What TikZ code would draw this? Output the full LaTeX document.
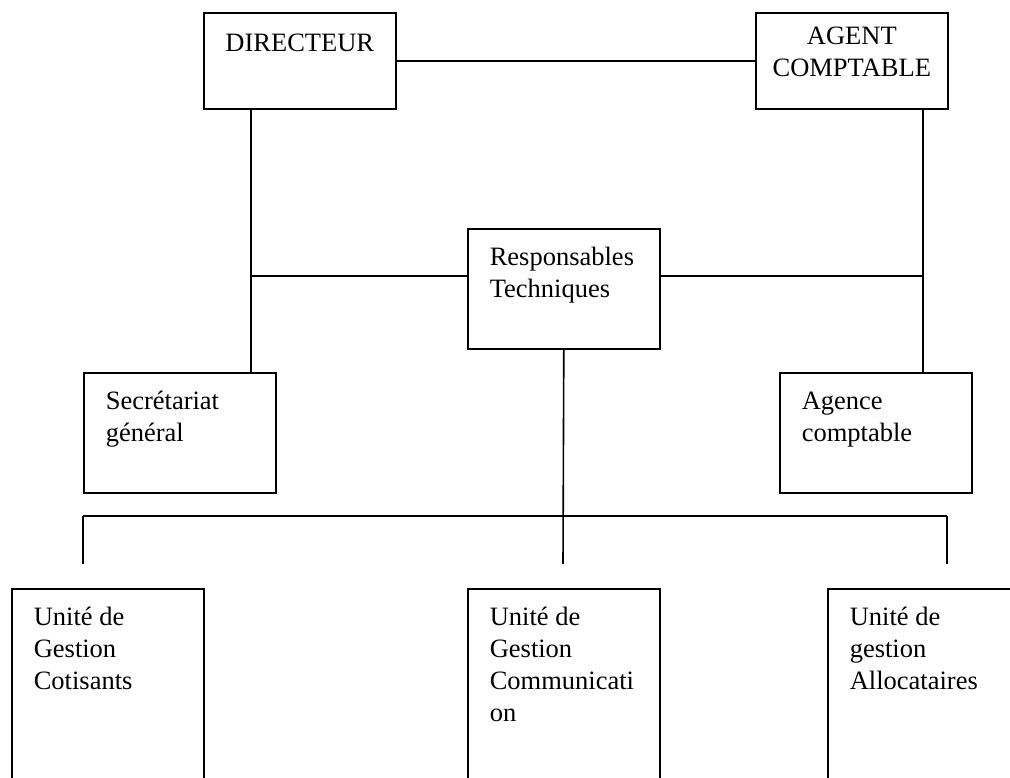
\documentclass[tikz,border=0pt]{standalone}
\usepackage{fontspec}
\setmainfont{Liberation Serif}
% box contents: alignment, width, height, top gap, text
\newcommand{\cadre}[5]{\parbox[t][#3pt][t]{#2pt}{\fontsize{26.5}{32}\selectfont #1\vspace*{#4pt}\strut #5}}
\newcommand{\agauche}{\raggedright\leftskip=22pt }
\begin{document}
\begin{tikzpicture}[x=1pt,y=-1pt,
    boite/.style={draw,line width=1.6pt,inner sep=0pt,anchor=north west},
    lien/.style={line width=1.6pt}]
    \useasboundingbox (0,0) rectangle (1010,777);
    \clip (0,0) rectangle (1010,777);
    % top row
    \node[boite] (dir) at (203,12) {\cadre{\centering}{192}{96}{16.1}{DIRECTEUR}};
    \node[boite] (agent) at (755,12) {\cadre{\centering}{192}{96}{9.6}{AGENT\\COMPTABLE}};
    \node[boite] (resp) at (467,228) {\cadre{\agauche}{192}{120}{14.6}{Responsables\\Techniques}};
    \node[boite] (sec) at (83,372) {\cadre{\agauche}{192}{120}{14.6}{Secrétariat\\général}};
    \node[boite] (agence) at (779,372) {\cadre{\agauche}{192}{120}{14.6}{Agence\\comptable}};
    % units
    \node[boite] (ugcot) at (11,588) {\cadre{\agauche}{192}{230}{14.6}{Unité de\\Gestion\\Cotisants}};
    \node[boite] (ugcom) at (467,588) {\cadre{\agauche}{192}{230}{14.6}{Unité de\\Gestion\\Communicati\\on}};
    \node[boite] (ugall) at (827,588) {\cadre{\agauche}{192}{230}{14.6}{Unité de\\gestion\\Allocataires}};
    % junctions
    \coordinate (jg) at (251,276);
    \coordinate (jd) at (923,276);
    \coordinate (busg) at (83,516);
    \coordinate (busd) at (947,516);
    \coordinate (fg) at (83,564);
    \coordinate (fm) at (563,564);
    \coordinate (fd) at (947,564);
    \draw[lien] (dir) -- (agent);
    \draw[lien] (dir.south -| jg) -- (sec.north -| jg);
    \draw[lien] (jg) -- (jg -| resp.west);
    \draw[lien] (agent.south -| jd) -- (agence.north -| jd);
    \draw[lien] (resp.east |- jd) -- (jd);
    \draw[lien] (resp.south) -- (fm);
    \draw[lien] (busg) -- (busd);
    \draw[lien] (busg) -- (fg);
    \draw[lien] (busd) -- (fd);
\end{tikzpicture}
\end{document}
